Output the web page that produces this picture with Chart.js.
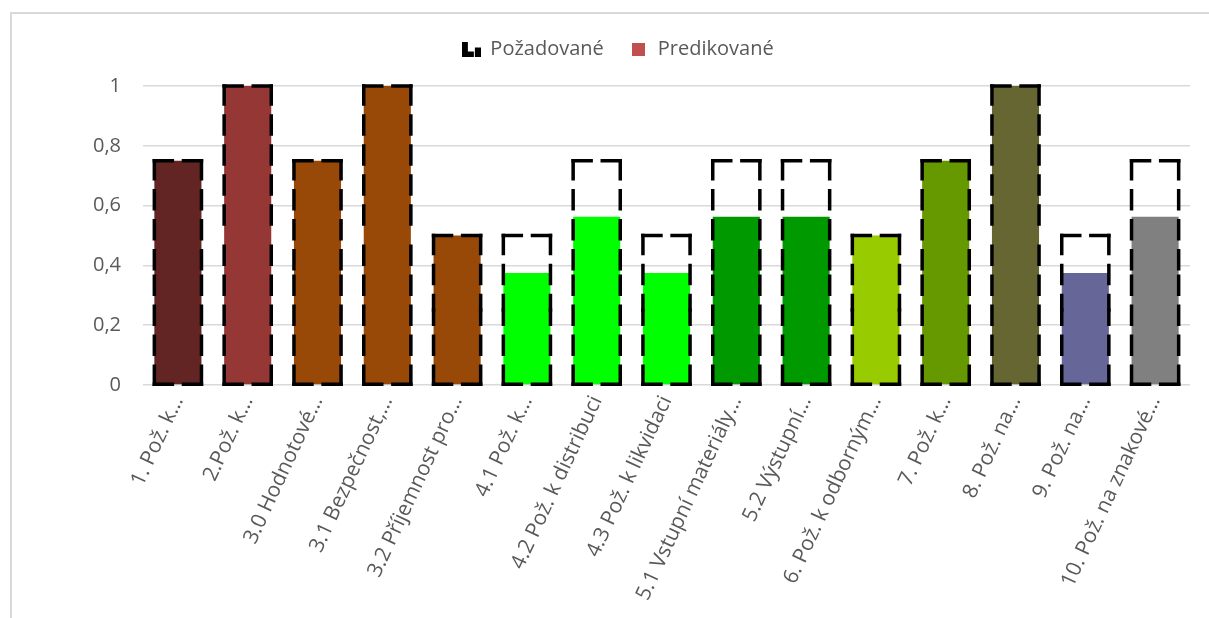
<!DOCTYPE html>
<html>
<head>
<meta charset="utf-8">
<script src="https://cdn.jsdelivr.net/npm/chart.js@4.4.1/dist/chart.umd.min.js"></script>
<style>
  html, body { margin: 0; padding: 0; background: #fff; overflow: hidden; width: 1209px; height: 618px; }
  #frame { position: absolute; left: 10px; top: 12px; width: 1400px; height: 800px;
           border-top: 2px solid #d9d9d9; border-left: 2px solid #d9d9d9; }
  #wrap { position: absolute; left: 0; top: 0; width: 1226px; height: 618px; }
</style>
</head>
<body>
<div id="frame"></div>
<div id="wrap"><canvas id="c" width="1226" height="618"></canvas></div>
<script>
// Requirement areas (labels as shortened on the axis)
const categories = [
  '1. Pož. k…', '2.Pož. k…', '3.0 Hodnotové…', '3.1 Bezpečnost,…', '3.2 Příjemnost pro…',
  '4.1 Pož. k…', '4.2 Pož. k distribuci', '4.3 Pož. k likvidaci', '5.1 Vstupní materiály…',
  '5.2 Výstupní…', '6. Pož. k odborným…', '7. Pož. k…', '8. Pož. na…', '9. Pož. na…',
  '10. Pož. na znakové…'
];
// Required level per area
const required  = [0.75, 1, 0.75, 1, 0.5, 0.5, 0.75, 0.5, 0.75, 0.75, 0.5, 0.75, 1, 0.5, 0.75];
// Predicted level per area
const predicted = [0.75, 1, 0.75, 1, 0.5, 0.375, 0.5625, 0.375, 0.5625, 0.5625, 0.5, 0.75, 1, 0.375, 0.5625];
// Fill colour per area
const barColors = [
  '#632523', '#953735', '#984807', '#984807', '#984807',
  '#00ff00', '#00ff00', '#00ff00', '#009900', '#009900',
  '#99cc00', '#669900', '#666633', '#666699', '#808080'
];
const seriesNames = ['Požadované', 'Predikované'];
const yTicks = [0, 0.2, 0.4, 0.6, 0.8, 1];

const TEXT = '#595959';
const FONT = "'Open Sans', 'DejaVu Sans', sans-serif";

// Legend key for the required series: small dashed-frame glyph
function makeReqIcon() {
  const cv = document.createElement('canvas');
  cv.width = 19; cv.height = 15;
  const g = cv.getContext('2d');
  g.fillStyle = '#000';
  g.fillRect(0, 0, 6, 15);
  g.fillRect(0, 10, 12, 5);
  g.fillRect(13, 6, 6, 9);
  return cv;
}
function makePredIcon() {
  const cv = document.createElement('canvas');
  cv.width = 13; cv.height = 13;
  const g = cv.getContext('2d');
  g.fillStyle = '#c0504d';
  g.fillRect(0, 0, 13, 13);
  return cv;
}
const legendIcons = [makeReqIcon(), makePredIcon()];

// Dashed frames for the required series, drawn from the bar elements' geometry
const dashedFrames = {
  id: 'dashedFrames',
  afterDatasetsDraw(chart) {
    const meta = chart.getDatasetMeta(0);
    if (!chart.isDatasetVisible(0)) return;
    const ctx = chart.ctx;
    ctx.save();
    ctx.strokeStyle = '#000';
    ctx.lineWidth = 3.5;
    ctx.lineCap = 'square';
    ctx.setLineDash([18, 12]);
    const seg = (x1, y1, x2, y2) => {
      const mx = (x1 + x2) / 2, my = (y1 + y2) / 2;
      ctx.beginPath(); ctx.moveTo(x1, y1); ctx.lineTo(mx, my); ctx.stroke();
      ctx.beginPath(); ctx.moveTo(x2, y2); ctx.lineTo(mx, my); ctx.stroke();
    };
    meta.data.forEach(bar => {
      const p = bar.getProps(['x', 'y', 'base', 'width'], true);
      const l = p.x - p.width / 2, r = p.x + p.width / 2;
      seg(l, p.y, r, p.y);
      seg(r, p.y, r, p.base);
      seg(l, p.base, r, p.base);
      seg(l, p.y, l, p.base);
    });
    ctx.restore();
  }
};

new Chart(document.getElementById('c'), {
  type: 'bar',
  data: {
    labels: categories,
    datasets: [
      {
        label: seriesNames[0],
        data: required,
        backgroundColor: 'rgba(0,0,0,0)',
        borderWidth: 0,
        grouped: false,
        categoryPercentage: 1,
        barPercentage: 0.675
      },
      {
        label: seriesNames[1],
        data: predicted,
        backgroundColor: barColors,
        borderWidth: 0,
        grouped: false,
        categoryPercentage: 1,
        barPercentage: 0.675
      }
    ]
  },
  options: {
    responsive: false,
    animation: false,
    devicePixelRatio: 1,
    layout: { padding: { top: 13, left: 46, right: 36, bottom: 0 } },
    plugins: {
      legend: {
        position: 'top',
        weight: 3000,
        labels: {
          usePointStyle: true,
          boxWidth: 18,
          padding: 26,
          color: TEXT,
          font: { family: FONT, size: 20 },
          generateLabels: (chart) => seriesNames.map((name, i) => ({
            text: name,
            pointStyle: legendIcons[i],
            fillStyle: 'rgba(0,0,0,0)',
            strokeStyle: 'rgba(0,0,0,0)',
            lineWidth: 0,
            fontColor: TEXT,
            hidden: !chart.isDatasetVisible(i),
            datasetIndex: i
          }))
        }
      },
      title: {
        display: true,
        text: '',
        weight: 2000,
        padding: { top: 7, bottom: 0 },
        font: { size: 10, lineHeight: 1 }
      },
      tooltip: { enabled: false }
    },
    scales: {
      x: {
        grid: { display: false, drawTicks: false },
        border: { display: false },
        ticks: {
          autoSkip: false,
          minRotation: 65,
          maxRotation: 65,
          padding: 7,
          color: TEXT,
          font: { family: FONT, size: 21 }
        },
        afterFit: (s) => { s.height = 233; }
      },
      y: {
        min: 0,
        max: 1,
        afterBuildTicks: (s) => { s.ticks = yTicks.map(v => ({ value: v })); },
        grid: { color: '#d9d9d9', lineWidth: 1.5, drawTicks: false },
        border: { display: false },
        ticks: {
          padding: 22,
          color: TEXT,
          font: { family: FONT, size: 20 },
          callback: (v) => String(Math.round(v * 10) / 10).replace('.', ',')
        },
        afterFit: (s) => { s.width = 97; }
      }
    }
  },
  plugins: [dashedFrames]
});
</script>
</body>
</html>
